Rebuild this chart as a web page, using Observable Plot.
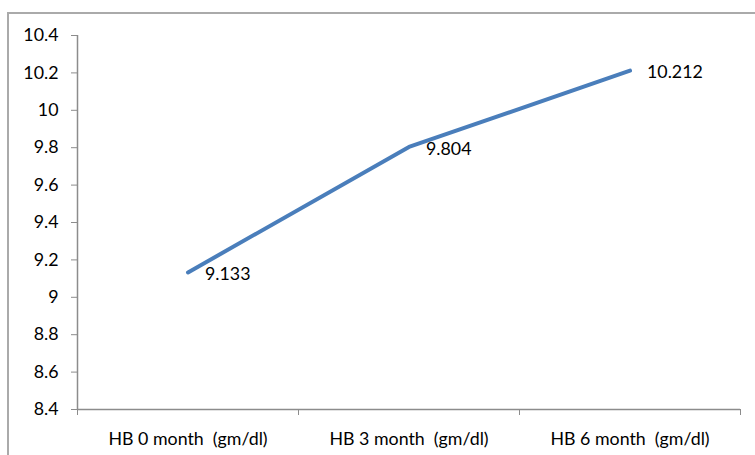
<!DOCTYPE html>
<html><head><meta charset="utf-8">
<script src="https://cdn.jsdelivr.net/npm/d3@7"></script>
<script src="https://cdn.jsdelivr.net/npm/@observablehq/plot@0.6"></script>
<style>
body{margin:0;background:#fff;}
#wrap{position:relative;width:755px;height:455px;overflow:hidden;background:#fff;}
#frame{position:absolute;left:7px;top:12px;width:780px;height:480px;border-top:2px solid #aaaaaa;border-left:2px solid #aaaaaa;}
#chart{position:absolute;left:0;top:0;}
</style></head><body>
<div id="wrap"><div id="frame"></div><div id="chart"></div></div>
<script>
const categories = ["HB 0 month  (gm/dl)", "HB 3 month  (gm/dl)", "HB 6 month  (gm/dl)"];
const values = [9.133, 9.804, 10.212];
const valueLabels = ["9.133", "9.804", "10.212"];
const yTicks = [8.4, 8.6, 8.8, 9, 9.2, 9.4, 9.6, 9.8, 10, 10.2, 10.4];
const yDomain = [8.4, 10.4];

const data = categories.map((c, i) => ({cat: c, pos: i + 0.5, value: values[i], label: valueLabels[i]}));
const bounds = d3.range(categories.length + 1);
const mids = categories.map((c, i) => i + 0.5);

const axisColor = "#8c8c8c";
const fs = 17.8;
const chart = Plot.plot({
  width: 755, height: 455,
  marginLeft: 77, marginRight: 15, marginTop: 35, marginBottom: 46,
  style: {fontFamily: "Lato, 'Open Sans', sans-serif", fontSize: fs + "px", color: "#000", background: "transparent", whiteSpace: "pre", overflow: "visible"},
  x: {domain: [0, categories.length], label: null},
  y: {domain: yDomain, label: null},
  marks: [
    Plot.ruleY([yDomain[0]], {stroke: axisColor, strokeWidth: 1.5}),
    Plot.ruleX([0], {stroke: axisColor, strokeWidth: 1.5}),
    Plot.axisY({ticks: yTicks, tickSize: 6, tickPadding: 13, tickFormat: d => String(+d.toFixed(1)), stroke: axisColor, fill: "#000", label: null, fontSize: fs}),
    Plot.axisX({ticks: bounds, tickSize: 6, tickFormat: () => "", stroke: axisColor, label: null}),
    Plot.axisX({ticks: mids, tickSize: 0, tickPadding: 23, tickFormat: d => categories[Math.floor(d)], fill: "#000", label: null, fontSize: fs}),
    Plot.line(data, {x: "pos", y: "value", stroke: "#4a7ebb", strokeWidth: 4, strokeLinecap: "round"}),
    Plot.text(data, {x: "pos", y: "value", text: "label", textAnchor: "start", dx: 17, dy: 2, fill: "#000", fontSize: fs})
  ]
});
document.getElementById("chart").appendChild(chart);
</script>
</body></html>
